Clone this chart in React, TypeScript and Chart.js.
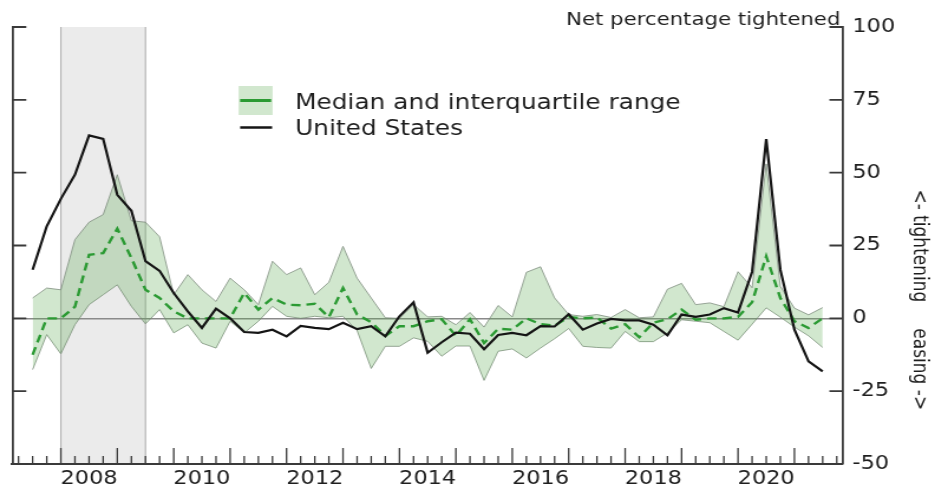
import React, { useEffect, useRef } from "react";
import { Chart, registerables } from "chart.js";

Chart.register(...registerables);

// ---------------- data ----------------
const quarters = [
  "2007Q3", "2007Q4",
  "2008Q1", "2008Q2", "2008Q3", "2008Q4",
  "2009Q1", "2009Q2", "2009Q3", "2009Q4",
  "2010Q1", "2010Q2", "2010Q3", "2010Q4",
  "2011Q1", "2011Q2", "2011Q3", "2011Q4",
  "2012Q1", "2012Q2", "2012Q3", "2012Q4",
  "2013Q1", "2013Q2", "2013Q3", "2013Q4",
  "2014Q1", "2014Q2", "2014Q3", "2014Q4",
  "2015Q1", "2015Q2", "2015Q3", "2015Q4",
  "2016Q1", "2016Q2", "2016Q3", "2016Q4",
  "2017Q1", "2017Q2", "2017Q3", "2017Q4",
  "2018Q1", "2018Q2", "2018Q3", "2018Q4",
  "2019Q1", "2019Q2", "2019Q3", "2019Q4",
  "2020Q1", "2020Q2", "2020Q3", "2020Q4",
  "2021Q1", "2021Q2", "2021Q3",
];

const unitedStates = [
  16.7, 31.6, 41, 49.3, 62.8, 61.6, 42.4, 36.9, 19.6, 16.3,
  8.7, 2.4, -3.3, 3.3, 0, -4.7, -5, -3.9, -6.2, -2.6,
  -3.3, -3.7, -1.5, -3.7, -2.7, -6.2, 0.7, 5.5, -11.8, -8.2,
  -4.9, -5.3, -10.6, -5.7, -5, -5.8, -2.7, -2.8, 1.4, -3.9,
  -1.8, -0.2, -0.7, -0.7, -2.2, -5.8, 1.3, 0.5, 1.3, 3.5,
  2, 16, 61.5, 16.7, -3.9, -14.8, -18.2,
];

const median = [
  -12.5, 0, 0, 4, 21.8, 22.4, 30.8, 20.7, 9.8, 7,
  2.4, 0, 0, 0, 0, 8.7, 3, 7, 4.7, 4.5,
  5, 0.4, 10.4, 1.3, -1.3, -6, -2.7, -2.7, -1, -0.3,
  -6, -0.3, -8.5, -3.6, -3.9, 0, -2, -2.5, 0.5, 0,
  0.3, -3.5, -2, -6.5, -1.5, -0.3, 3, -0.5, 0, 0,
  0.5, 5.5, 21.3, 7, -1, -3.3, 0,
];

const upperQuartile = [
  7, 10.4, 9.8, 27, 33, 35.6, 49.3, 33.5, 33, 28,
  8.1, 15, 9.8, 5.8, 13.8, 9.8, 4.7, 19.6, 15, 17.3,
  8.1, 12.4, 24.7, 13.8, 7, 0.2, 0, 4.7, 0.5, 0.7,
  -2.2, 2, -3, 4.4, 0.5, 15.8, 17.7, 7, 1.3, 0.7,
  1.3, 0.3, 3, 0.2, 0.5, 10, 12, 4.7, 5.3, 4,
  16, 10.5, 53, 11, 3.5, 1.2, 3.7,
];

const lowerQuartile = [
  -17.6, -5.6, -12.2, -2.2, 4.7, 8.1, 11.5, 4.1, -1.9, 3,
  -5, -2.2, -8.5, -10.2, -1, -5, -1, 4.1, 0.7, 0,
  0.7, 0.2, 0.7, -4.2, -17.2, -9.6, -9.6, -6.7, -7.9, -13,
  -9.5, -9.5, -21.3, -11.3, -10.5, -13.6, -10.2, -7, -3.5, -9.6,
  -10, -10.2, -4.5, -8, -8, -5, -0.5, -1, -1.5, -4.5,
  -7.5, -2, 3.6, 0.4, -3, -6, -10,
];

const yearLabels = ["2008", "2010", "2012", "2014", "2016", "2018", "2020"];
const yTickValues = [-50, -25, 0, 25, 50, 75, 100];
const recessionPeriod = ["2008Q1", "2009Q3"];
const legendLabels = ["Median and interquartile range", "United States"];
const unitLabel = "Net percentage tightened";
const sideTitleTop = "<- tightening";
const sideTitleBottom = "easing ->";

// ---------------- styling ----------------
const STRETCH = 1.18;
const CANVAS_W = Math.round(935 / STRETCH);
const CANVAS_H = 489;
const sx = (px: number) => px / STRETCH;

const FONT = '"DejaVu Sans", sans-serif';
const TEXT = "#1e1e1e";
const AXIS_COLOR = "#3a3a3a";
const ZERO_COLOR = "#8a8a8a";
const US_COLOR = "#151515";
const MEDIAN_COLOR = "#2b9a33";
const BAND_FILL = "rgba(90,170,80,0.28)";
const BAND_EDGE = "rgba(120,135,120,0.75)";

function quarterToYear(q: string): number {
  const y = Number(q.slice(0, 4));
  const n = Number(q.slice(5));
  return y + (n - 1) / 4;
}

const series = (vals: number[]) =>
  vals.map((v, i) => ({ x: quarterToYear(quarters[i]), y: v }));

const decorations = {
  id: "decorations",
  beforeDraw(chart: any) {
    const { ctx, chartArea: a, scales } = chart;
    const x = scales.x;
    const x0 = x.getPixelForValue(quarterToYear(recessionPeriod[0]));
    const x1 = x.getPixelForValue(quarterToYear(recessionPeriod[1]));
    ctx.save();
    ctx.fillStyle = "#ebebeb";
    ctx.fillRect(x0, a.top, x1 - x0, a.bottom - a.top);
    ctx.strokeStyle = "#b0b0b0";
    ctx.lineWidth = 1.1;
    ctx.beginPath();
    ctx.moveTo(x0, a.top);
    ctx.lineTo(x0, a.bottom);
    ctx.moveTo(x1, a.top);
    ctx.lineTo(x1, a.bottom);
    ctx.stroke();
    ctx.restore();
  },
  afterDraw(chart: any) {
    const { ctx, chartArea: a, scales } = chart;
    const x = scales.x;
    const y = scales.y;
    ctx.save();
    // quarterly tick marks on the bottom axis (pointing inward)
    ctx.strokeStyle = AXIS_COLOR;
    ctx.lineWidth = 1.3;
    ctx.beginPath();
    const startQ = Math.ceil(x.min * 4);
    const endQ = Math.floor(x.max * 4);
    for (let k = startQ; k <= endQ; k++) {
      const px = x.getPixelForValue(k / 4);
      const len = k % 4 === 0 ? 16 : 8;
      ctx.moveTo(px, a.bottom);
      ctx.lineTo(px, a.bottom - len);
    }
    ctx.stroke();
    // left & right tick marks (inward)
    ctx.lineWidth = 1.8;
    ctx.beginPath();
    for (const v of yTickValues) {
      const py = y.getPixelForValue(v);
      ctx.moveTo(a.left, py);
      ctx.lineTo(a.left + sx(14), py);
      ctx.moveTo(a.right, py);
      ctx.lineTo(a.right - sx(13), py);
    }
    ctx.stroke();

    // legend
    ctx.fillStyle = BAND_FILL;
    ctx.fillRect(sx(238.5), 86, sx(34), 29);
    ctx.strokeStyle = MEDIAN_COLOR;
    ctx.lineWidth = 3;
    ctx.beginPath();
    ctx.moveTo(sx(240), 100.5);
    ctx.lineTo(sx(271), 100.5);
    ctx.stroke();
    ctx.strokeStyle = US_COLOR;
    ctx.lineWidth = 2.5;
    ctx.beginPath();
    ctx.moveTo(sx(240), 127.5);
    ctx.lineTo(sx(272), 127.5);
    ctx.stroke();
    ctx.fillStyle = TEXT;
    ctx.font = `21px ${FONT}`;
    ctx.textAlign = "left";
    ctx.textBaseline = "alphabetic";
    ctx.fillText(legendLabels[0], sx(295), 109);
    ctx.fillText(legendLabels[1], sx(295), 135);

    // unit label
    ctx.font = `18px ${FONT}`;
    ctx.textAlign = "right";
    ctx.fillText(unitLabel, sx(840), 25);

    // side title (rotated clockwise)
    const zero = y.getPixelForValue(0);
    ctx.save();
    ctx.translate(sx(919), 0);
    ctx.rotate(Math.PI / 2);
    ctx.font = `17px ${FONT}`;
    ctx.textBaseline = "middle";
    ctx.textAlign = "right";
    ctx.fillText(sideTitleTop, zero - 16, 0);
    ctx.textAlign = "left";
    ctx.fillText(sideTitleBottom, zero + 10, 0);
    ctx.restore();

    ctx.restore();
  },
};

function buildConfig(): any {
  return {
    type: "line",
    data: {
      datasets: [
        {
          label: legendLabels[1],
          data: series(unitedStates),
          borderColor: US_COLOR,
          borderWidth: 2.2,
          pointRadius: 0,
          fill: false,
          tension: 0,
          yAxisID: "y",
        },
        {
          label: "Median",
          data: series(median),
          borderColor: MEDIAN_COLOR,
          borderWidth: 2.4,
          borderDash: [8, 5],
          pointRadius: 0,
          fill: false,
          tension: 0,
          yAxisID: "y",
        },
        {
          label: "Upper quartile",
          data: series(upperQuartile),
          borderColor: BAND_EDGE,
          borderWidth: 1,
          backgroundColor: BAND_FILL,
          fill: "+1",
          pointRadius: 0,
          tension: 0,
          yAxisID: "y",
        },
        {
          label: "Lower quartile",
          data: series(lowerQuartile),
          borderColor: BAND_EDGE,
          borderWidth: 1,
          pointRadius: 0,
          fill: false,
          tension: 0,
          yAxisID: "y",
        },
      ],
    },
    options: {
      animation: false,
      responsive: false,
      devicePixelRatio: 1,
      events: [],
      layout: { padding: { left: sx(12.3), top: 27, right: 0, bottom: 0 } },
      plugins: {
        legend: { display: false },
        tooltip: { enabled: false },
        title: { display: false },
      },
      scales: {
        x: {
          type: "linear",
          position: "bottom",
          min: 2007.14,
          max: 2021.85,
          grid: { display: false, drawTicks: false },
          border: { display: true, color: AXIS_COLOR, width: 2 },
          ticks: {
            autoSkip: false,
            maxRotation: 0,
            minRotation: 0,
            padding: 4,
            color: TEXT,
            font: { size: 19, family: FONT },
            callback: (_v: any, index: number) => yearLabels[index],
          },
          afterBuildTicks: (scale: any) => {
            scale.ticks = yearLabels.map((l) => ({ value: Number(l) + 0.5 }));
          },
          afterFit: (scale: any) => {
            scale.height = 25;
          },
        },
        yL: {
          position: "left",
          min: -50,
          max: 100,
          ticks: { display: false },
          grid: { display: false, drawTicks: false },
          border: { display: true, color: AXIS_COLOR, width: 1.8 },
          afterFit: (scale: any) => {
            scale.width = 0;
          },
        },
        y: {
          position: "right",
          min: -50,
          max: 100,
          ticks: {
            stepSize: 25,
            padding: sx(10),
            color: TEXT,
            font: { size: 19, family: FONT },
          },
          grid: {
            drawTicks: false,
            lineWidth: 1.5,
            color: (c: any) =>
              c.tick && c.tick.value === 0 ? ZERO_COLOR : "rgba(0,0,0,0)",
          },
          border: { display: true, color: AXIS_COLOR, width: 1.8 },
          afterFit: (scale: any) => {
            scale.width = CANVAS_W - sx(842);
          },
        },
      },
    },
    plugins: [decorations],
  };
}

export default function App() {
  const ref = useRef<HTMLCanvasElement | null>(null);
  useEffect(() => {
    const canvas = ref.current;
    if (!canvas) return;
    Chart.defaults.font.family = FONT;
    const chart = new Chart(canvas, buildConfig());
    return () => chart.destroy();
  }, []);
  return (
    <div
      style={{
        position: "absolute",
        left: 0,
        top: 0,
        width: 935,
        height: 489,
        background: "#ffffff",
      }}
    >
      <canvas
        ref={ref}
        width={CANVAS_W}
        height={CANVAS_H}
        style={{ width: "935px", height: "489px", display: "block" }}
      />
    </div>
  );
}
